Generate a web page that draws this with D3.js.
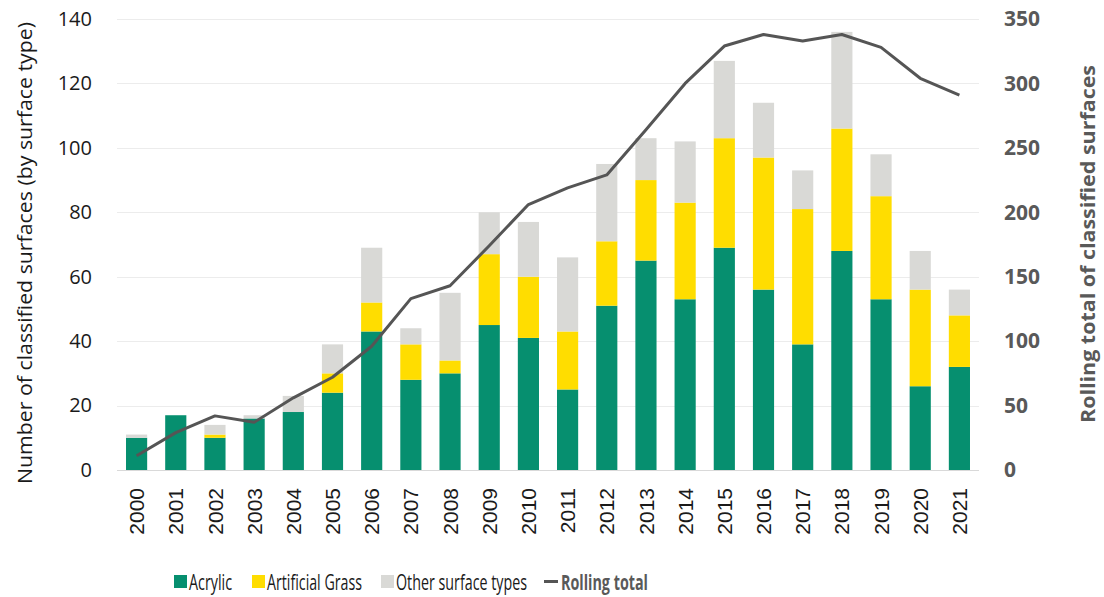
<!DOCTYPE html>
<html>
<head>
<meta charset="utf-8">
<title>Classified surfaces</title>
<script src="https://d3js.org/d3.v7.min.js"></script>
<style>
  body { margin: 0; background: #fff; }
  text { font-family: "Open Sans", "Noto Sans", sans-serif; }
</style>
</head>
<body>
<svg width="1104" height="597"></svg>
<script>
// data
var years = ["2000","2001","2002","2003","2004","2005","2006","2007","2008","2009","2010",
             "2011","2012","2013","2014","2015","2016","2017","2018","2019","2020","2021"];
var acrylic    = [10,17,10,16,18,24,43,28,30,45,41,25,51,65,53,69,56,39,68,53,26,32];
var artificial = [0,0,1,0,0,6,9,11,4,22,19,18,20,25,30,34,41,42,38,32,30,16];
var other      = [1,0,3,1,5,9,17,5,21,13,17,23,24,13,19,24,17,12,30,13,12,8];
var rolling    = [11,29,42,37,56,72,96,133,143,174,206,219,229,264,300,329,338,333,338,328,304,291];
var leftTicks  = [0,20,40,60,80,100,120,140];
var rightTicks = [0,50,100,150,200,250,300,350];

var seriesNames = ["Acrylic", "Artificial Grass", "Other surface types"];
var colors = ["#068f6f", "#ffdd00", "#d9d9d6"];

var svg = d3.select("svg");
var plotLeft = 117, plotRight = 979, plotTop = 19, plotBottom = 470;

var x = d3.scaleBand().domain(years).range([plotLeft, plotRight]).paddingInner(0.46).paddingOuter(0.23);
var y = d3.scaleLinear().domain([0, 140]).range([plotBottom, plotTop]);
var y2 = d3.scaleLinear().domain([0, 350]).range([plotBottom, plotTop]);

// gridlines
svg.append("g").selectAll("line")
   .data(leftTicks.slice(1))
   .enter().append("line")
   .attr("x1", plotLeft).attr("x2", plotRight)
   .attr("y1", function(d) { return Math.round(y(d)) + 0.5; })
   .attr("y2", function(d) { return Math.round(y(d)) + 0.5; })
   .attr("stroke", "#ececec").attr("stroke-width", 1);

// stacked bars
var rows = years.map(function(yr, i) {
    return { year: yr, a: acrylic[i], g: artificial[i], o: other[i] };
});
var stack = d3.stack().keys(["a", "g", "o"])(rows);

svg.append("g").selectAll("g")
   .data(stack)
   .enter().append("g")
   .attr("fill", function(d, i) { return colors[i]; })
   .selectAll("rect")
   .data(function(d) { return d; })
   .enter().append("rect")
   .attr("x", function(d) { return x(d.data.year); })
   .attr("width", x.bandwidth())
   .attr("y", function(d) { return y(d[1]); })
   .attr("height", function(d) { return y(d[0]) - y(d[1]); });

// baseline
svg.append("line")
   .attr("x1", plotLeft).attr("x2", plotRight)
   .attr("y1", plotBottom + 0.5).attr("y2", plotBottom + 0.5)
   .attr("stroke", "#d9d9d9").attr("stroke-width", 1);

// rolling total line
var line = d3.line()
    .x(function(d, i) { return x(years[i]) + x.bandwidth() / 2; })
    .y(function(d) { return y2(d); });

svg.append("path")
   .datum(rolling)
   .attr("d", line)
   .attr("fill", "none")
   .attr("stroke", "#555555")
   .attr("stroke-width", 3)
   .attr("stroke-linejoin", "round");

// left axis
var yAxis = svg.append("g")
   .attr("transform", "translate(" + (plotLeft - 25) + ",0)")
   .call(d3.axisLeft(y).tickValues(leftTicks).tickSize(0).tickPadding(0));
yAxis.select(".domain").remove();
yAxis.selectAll("text")
   .attr("font-size", "20px").attr("fill", "#1a1a1a")
   .style("font-family", "'Open Sans', sans-serif");

// right axis
var y2Axis = svg.append("g")
   .attr("transform", "translate(" + (plotRight + 25) + ",0)")
   .call(d3.axisRight(y2).tickValues(rightTicks).tickSize(0).tickPadding(0));
y2Axis.select(".domain").remove();
y2Axis.selectAll("text")
   .attr("font-size", "21px").attr("font-weight", "bold").attr("fill", "#595959")
   .style("font-family", "'Open Sans', sans-serif");

// x axis labels, rotated
var xAxis = svg.append("g")
   .attr("transform", "translate(0," + plotBottom + ")")
   .call(d3.axisBottom(x).tickSize(0).tickPadding(0));
xAxis.select(".domain").remove();
xAxis.selectAll("text")
   .attr("transform", "rotate(-90)")
   .attr("text-anchor", "end")
   .attr("x", -18)
   .attr("y", 0)
   .attr("dy", "0.36em")
   .attr("font-size", "21px").attr("fill", "#1a1a1a")
   .style("font-family", "'Liberation Sans', Arial, sans-serif");

// axis titles
svg.append("text")
   .attr("transform", "translate(32,253) rotate(-90)")
   .attr("text-anchor", "middle")
   .attr("font-size", "20px").attr("fill", "#1a1a1a")
   .attr("textLength", 462).attr("lengthAdjust", "spacingAndGlyphs")
   .text("Number of classified surfaces (by surface type)");

svg.append("text")
   .attr("transform", "translate(1095,244) rotate(-90)")
   .attr("text-anchor", "middle")
   .attr("font-size", "20px").attr("font-weight", "bold").attr("fill", "#595959")
   .attr("textLength", 358).attr("lengthAdjust", "spacingAndGlyphs")
   .text("Rolling total of classified surfaces");

// legend
var legend = svg.append("g");
var legendX = [174, 252, 381];
var legendW = [43, 95, 131];
seriesNames.forEach(function(name, i) {
    legend.append("rect")
       .attr("x", legendX[i]).attr("y", 575)
       .attr("width", 13).attr("height", 13)
       .attr("fill", colors[i]);
    legend.append("text")
       .attr("x", legendX[i] + 15).attr("y", 582)
       .attr("dy", "0.35em")
       .attr("font-size", "22px").attr("fill", "#1a1a1a")
       .attr("textLength", legendW[i]).attr("lengthAdjust", "spacingAndGlyphs")
       .text(name);
});
legend.append("line")
   .attr("x1", 544).attr("x2", 558)
   .attr("y1", 581.5).attr("y2", 581.5)
   .attr("stroke", "#555555").attr("stroke-width", 3);
legend.append("text")
   .attr("x", 561).attr("y", 582)
   .attr("dy", "0.35em")
   .attr("font-size", "22px").attr("font-weight", "bold").attr("fill", "#595959")
   .attr("textLength", 87).attr("lengthAdjust", "spacingAndGlyphs")
   .text("Rolling total");
</script>
</body>
</html>
